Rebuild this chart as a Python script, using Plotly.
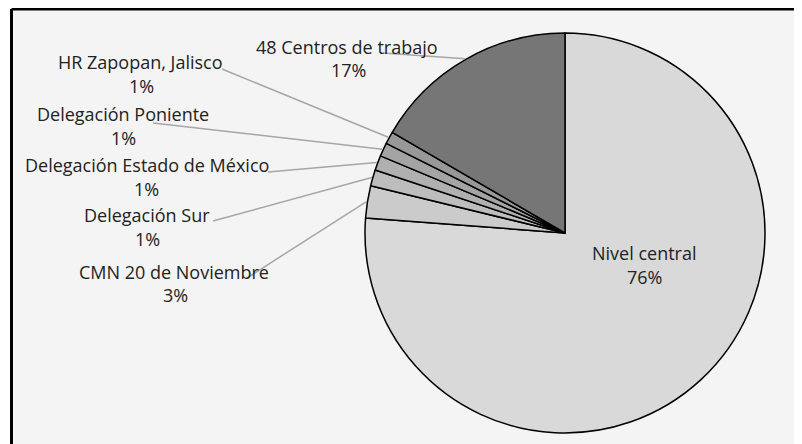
import plotly.graph_objects as go
import math

# ---- data ----
labels = ["Nivel central", "CMN 20 de Noviembre", "Delegación Sur",
          "Delegación Estado de México", "Delegación Poniente",
          "HR Zapopan, Jalisco", "48 Centros de trabajo"]
values = [76.2, 2.6, 1.3, 1.2, 1.1, 1.0, 16.6]
colors = ["#d9d9d9", "#cbcbcb", "#bdbdbd", "#b0b0b0", "#a4a4a4", "#989898", "#767676"]

# ---- layout (pixel positions in the page; the figure sits 8px in from the page corner) ----
OFF = 8
W, H = 802 - OFF, 444 - OFF
CX, CY, R = 565, 233, 200
name_pos = [(644, 253), (174, 272), (147, 215), (147, 165), (123, 114), (140, 62), (347, 47)]
pct_pos = [(644, 277), (175, 295), (147, 239), (146, 189), (123, 138), (141, 86), (348, 70)]
lead_start = [None, (247, 278), (213, 221), (268, 172), (153, 123), (222, 69), (383, 53)]
FONT = dict(family="Open Sans", size=18, color="#222222")


def px(x):
    return (x - OFF) / W


def py(y):
    return 1 - (y - OFF) / H


fig = go.Figure()
fig.add_trace(go.Pie(
    labels=labels, values=values, sort=False, direction="clockwise", rotation=0,
    marker=dict(colors=colors, line=dict(color="#000000", width=1.5)),
    textinfo="none", hoverinfo="label+percent", showlegend=False,
    domain=dict(x=[px(CX - R), px(CX + R)], y=[py(CY + R), py(CY - R)]),
))

total = sum(values)
shapes = [
    dict(type="rect", xref="paper", yref="paper", x0=px(12), x1=1.0, y0=0, y1=1.0,
         fillcolor="#f4f4f4", line=dict(width=0), layer="below"),
    dict(type="line", xref="paper", yref="paper", x0=px(11.5), x1=1.0, y0=py(9), y1=py(9),
         line=dict(color="#000000", width=3)),
    dict(type="line", xref="paper", yref="paper", x0=px(11.5), x1=px(11.5), y0=0, y1=py(9),
         line=dict(color="#000000", width=3)),
]
annotations = []
cum = 0.0
for i, (lab, v) in enumerate(zip(labels, values)):
    mid = (cum + v / 2) / total * 2 * math.pi
    cum += v
    if lead_start[i] is not None:
        rx = CX + (R + 1) * math.sin(mid)
        ry = CY - (R + 1) * math.cos(mid)
        sx, sy = lead_start[i]
        shapes.append(dict(type="line", xref="paper", yref="paper",
                           x0=px(sx), y0=py(sy), x1=px(rx), y1=py(ry),
                           line=dict(color="#a6a6a6", width=1.5)))
    nx, ny = name_pos[i]
    qx, qy = pct_pos[i]
    annotations.append(dict(text=lab, x=px(nx), y=py(ny), xref="paper", yref="paper",
                            xanchor="center", yanchor="middle", showarrow=False, font=FONT))
    annotations.append(dict(text=f"{round(v / total * 100)}%", x=px(qx), y=py(qy),
                            xref="paper", yref="paper", xanchor="center", yanchor="middle",
                            showarrow=False, font=FONT))

fig.update_layout(
    width=W, height=H, margin=dict(l=0, r=0, t=0, b=0),
    paper_bgcolor="#ffffff", plot_bgcolor="#ffffff",
    shapes=shapes, annotations=annotations,
)
fig.write_html("out.html")
